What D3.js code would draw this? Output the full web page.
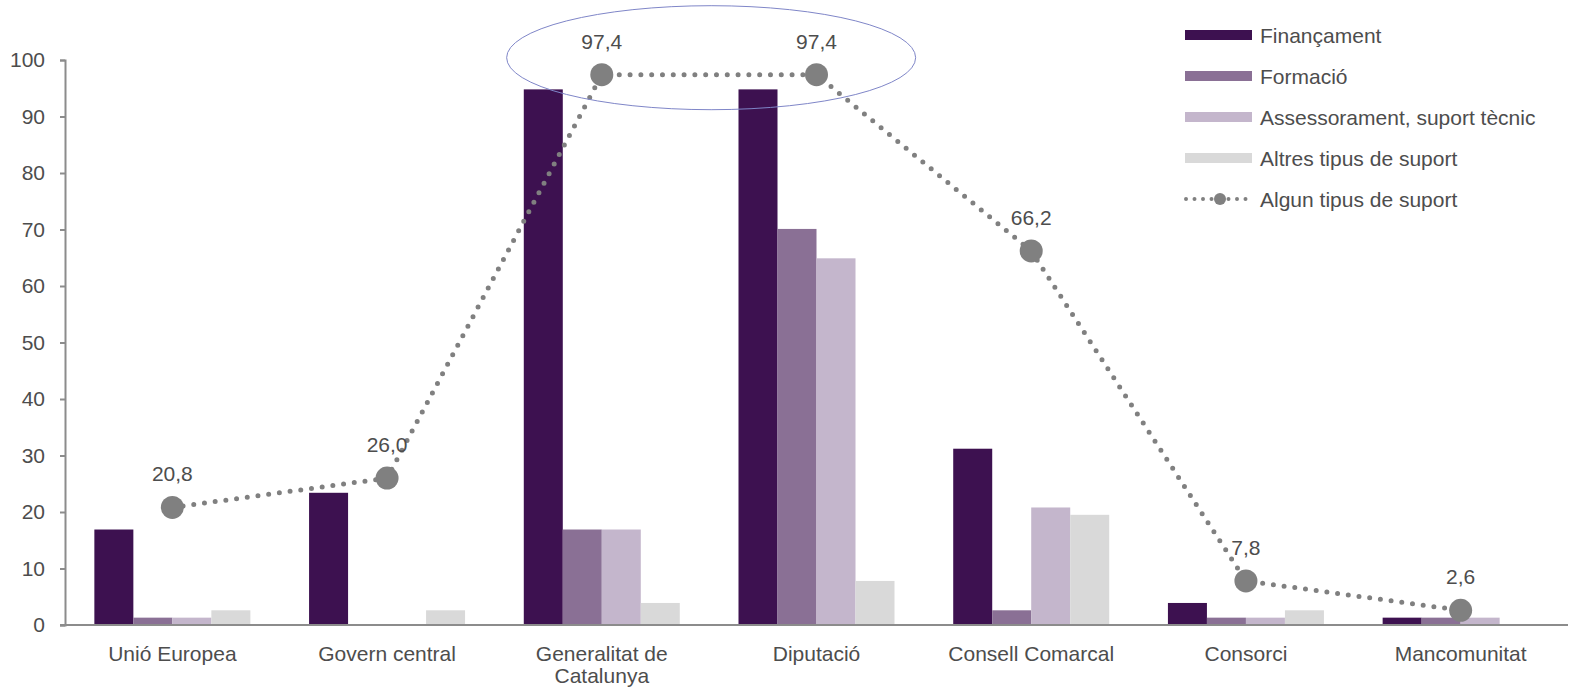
<!DOCTYPE html>
<html><head><meta charset="utf-8">
<script src="https://cdn.jsdelivr.net/npm/d3@7"></script>
<style>
body{margin:0;background:#fff;}
text{font-family:"Liberation Sans",Arial,sans-serif;}
</style></head>
<body>
<svg id="chart" width="1569" height="688"></svg>
<script>
const categories = ["Unió Europea","Govern central","Generalitat de Catalunya","Diputació","Consell Comarcal","Consorci","Mancomunitat"];
const seriesNames = ["Finançament","Formació","Assessorament, suport tècnic","Altres tipus de suport"];
const financament = [16.9, 23.4, 94.8, 94.8, 31.2, 3.9, 1.3];
const formacio = [1.3, 0, 16.9, 70.1, 2.6, 1.3, 1.3];
const assessorament = [1.3, 0, 16.9, 64.9, 20.8, 1.3, 1.3];
const altres = [2.6, 2.6, 3.9, 7.8, 19.5, 2.6, 0];
const algun = [20.8, 26.0, 97.4, 97.4, 66.2, 7.8, 2.6];
const lineName = "Algun tipus de suport";
const yTicks = [0,10,20,30,40,50,60,70,80,90,100];
const colors = ["#3d1150","#8a7095","#c4b6cc","#d9d9d9"];

const FS = 21, TXT = "#4d4d4d";
const svg = d3.select("#chart");
const mLeft = 65, mRight = 1568, mTop = 60, mBottom = 625;
const x = d3.scaleBand().domain(categories).range([mLeft, mRight]);
const y = d3.scaleLinear().domain([0,100]).range([mBottom, mTop]);
const barW = 39;
const xs = d3.scaleBand().domain(seriesNames).range([0, barW*4]);
const allSeries = [financament, formacio, assessorament, altres];

// bars
allSeries.forEach((vals, si) => {
  svg.append("g").selectAll("rect").data(vals).join("rect")
    .attr("x", (d,i) => x(categories[i]) + x.bandwidth()/2 - barW*2 + xs(seriesNames[si]))
    .attr("y", d => y(d))
    .attr("width", xs.bandwidth())
    .attr("height", d => y(0) - y(d))
    .attr("fill", colors[si]);
});

// axes
const yAxis = d3.axisLeft(y).tickValues(yTicks).tickSize(5).tickPadding(15);
const gy = svg.append("g").attr("transform", `translate(${mLeft},0)`).call(yAxis);
gy.select(".domain").attr("stroke","#8c8c8c").attr("stroke-width",2);
gy.selectAll(".tick line").attr("stroke","#8c8c8c").attr("stroke-width",2);
gy.selectAll("text").attr("font-size",FS).attr("fill",TXT).attr("font-family","Liberation Sans, Arial, sans-serif");

svg.append("line").attr("x1", mLeft-5).attr("x2", mRight).attr("y1", y(0)).attr("y2", y(0))
  .attr("stroke","#8c8c8c").attr("stroke-width",2);

// x labels
const xl = svg.append("g");
categories.forEach(c => {
  const cx = x(c)+x.bandwidth()/2;
  const t = xl.append("text").attr("x", cx).attr("y", 661)
    .attr("text-anchor","middle").attr("font-size",FS).attr("fill",TXT);
  if (c === "Generalitat de Catalunya") {
    t.append("tspan").attr("x", cx).text("Generalitat de");
    t.append("tspan").attr("x", cx).attr("dy", 22).text("Catalunya");
  } else t.text(c);
});

// line
const line = d3.line().x((d,i) => x(categories[i]) + x.bandwidth()/2).y(d => y(d));
svg.append("path").datum(algun).attr("d", line).attr("fill","none")
  .attr("stroke","#808080").attr("stroke-width",5).attr("stroke-linecap","round")
  .attr("stroke-dasharray","0 10.8");
svg.append("g").selectAll("circle").data(algun).join("circle")
  .attr("cx",(d,i)=>x(categories[i])+x.bandwidth()/2).attr("cy",d=>y(d)).attr("r",11.5)
  .attr("fill","#808080");
svg.append("g").selectAll("text").data(algun).join("text")
  .attr("x",(d,i)=>x(categories[i])+x.bandwidth()/2).attr("y",d=>y(d)-26)
  .attr("text-anchor","middle").attr("font-size",FS).attr("fill",TXT)
  .text(d => d3.format(".1f")(d).replace(".",","));

// ellipse annotation
const cxE = (x(categories[2]) + x(categories[3]))/2 + x.bandwidth()/2 + 2;
svg.append("ellipse").attr("cx", cxE).attr("cy", y(97.4) - 17)
  .attr("rx", 204.5).attr("ry", 52).attr("fill","none").attr("stroke","#7f86c8").attr("stroke-width",1);

// legend
const lg = svg.append("g");
const lx = 1185, lw = 67;
seriesNames.forEach((n,i) => {
  const cy = 35 + i*41;
  lg.append("rect").attr("x",lx).attr("y",cy-5).attr("width",lw).attr("height",10).attr("fill",colors[i]);
  lg.append("text").attr("x",lx+75).attr("y",cy+7.5).attr("font-size",FS).attr("fill",TXT).text(n);
});
const ly = 35 + 4*41;
lg.append("line").attr("x1",lx+1).attr("x2",lx+lw).attr("y1",ly).attr("y2",ly)
  .attr("stroke","#808080").attr("stroke-width",4).attr("stroke-linecap","round").attr("stroke-dasharray","0 8.5");
lg.append("circle").attr("cx",lx+35).attr("cy",ly).attr("r",6).attr("fill","#808080");
lg.append("text").attr("x",lx+75).attr("y",ly+7.5).attr("font-size",FS).attr("fill",TXT).text(lineName);
</script>
</body></html>
